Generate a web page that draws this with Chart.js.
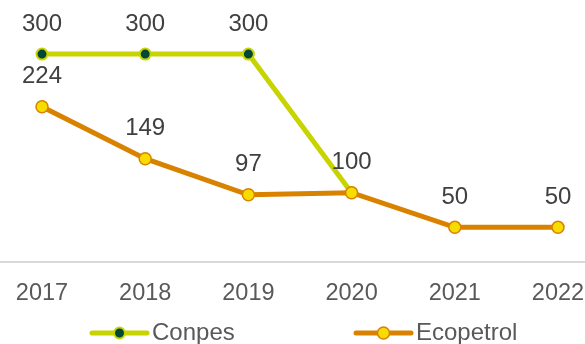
<!DOCTYPE html>
<html lang="es">
<head>
<meta charset="UTF-8">
<title>Conpes vs Ecopetrol</title>
<script src="https://cdn.jsdelivr.net/npm/chart.js"></script>
<style>
  html, body { margin: 0; padding: 0; background: #fff; }
  .grafico { width: 585px; height: 344px; }
</style>
</head>
<body>
<div class="grafico"><canvas id="grafico"></canvas></div>
<script>
// datos
const anios = ['2017', '2018', '2019', '2020', '2021', '2022'];
const conpes = [300, 300, 300, 100, null, null];
const ecopetrol = [224, 149, 97, 100, 50, 50];

const fuente = '"Liberation Sans", Arial, sans-serif';

// etiquetas de datos encima de cada punto (sin repetir las que coinciden)
const etiquetas = {
  id: 'etiquetas',
  afterDatasetsDraw(chart) {
    const ctx = chart.ctx;
    const hechas = {};
    ctx.save();
    ctx.font = '24px ' + fuente;
    ctx.fillStyle = '#404040';
    ctx.textAlign = 'center';
    ctx.textBaseline = 'middle';
    chart.data.datasets.forEach((ds, i) => {
      chart.getDatasetMeta(i).data.forEach((p, j) => {
        if (ds.data[j] == null) return;
        const clave = j + '-' + ds.data[j];
        if (hechas[clave]) return;
        hechas[clave] = true;
        ctx.fillText(ds.data[j], p.x, p.y - 30);
      });
    });
    ctx.restore();
  }
};

// linea base y leyenda
const extras = {
  id: 'extras',
  beforeDatasetsDraw(chart) {
    const ctx = chart.ctx;
    const y0 = chart.scales.y.getPixelForValue(0);
    ctx.save();
    ctx.strokeStyle = '#d9d9d9';
    ctx.lineWidth = 2;
    ctx.beginPath();
    ctx.moveTo(0, y0);
    ctx.lineTo(chart.width, y0);
    ctx.stroke();
    ctx.restore();
  },
  afterDraw(chart) {
    const ctx = chart.ctx;
    ctx.save();
    chart.data.datasets.forEach((ds, i) => {
      const x0 = 92 + i * 264;
      const y = 333;
      ctx.strokeStyle = ds.borderColor;
      ctx.lineWidth = ds.borderWidth;
      ctx.lineCap = 'round';
      ctx.beginPath();
      ctx.moveTo(x0, y);
      ctx.lineTo(x0 + 55, y);
      ctx.stroke();
      ctx.beginPath();
      ctx.arc(x0 + 27.5, y, ds.pointRadius, 0, Math.PI * 2);
      ctx.fillStyle = ds.pointBackgroundColor;
      ctx.fill();
      ctx.lineWidth = ds.pointBorderWidth;
      ctx.strokeStyle = ds.pointBorderColor;
      ctx.stroke();
      ctx.font = '24px ' + fuente;
      ctx.fillStyle = '#595959';
      ctx.textAlign = 'left';
      ctx.textBaseline = 'alphabetic';
      ctx.fillText(ds.label, x0 + 60, 340);
    });
    ctx.restore();
  }
};

new Chart(document.getElementById('grafico'), {
  type: 'line',
  data: {
    labels: anios,
    datasets: [{
      label: 'Conpes',
      data: conpes,
      borderColor: '#c8d400',
      borderWidth: 5,
      pointRadius: 5.5,
      pointBackgroundColor: '#00473a',
      pointBorderColor: '#c8d400',
      pointBorderWidth: 2,
      order: 2
    }, {
      label: 'Ecopetrol',
      data: ecopetrol,
      borderColor: '#d98200',
      borderWidth: 5,
      pointRadius: 6,
      pointBackgroundColor: '#f7dc00',
      pointBorderColor: '#d98200',
      pointBorderWidth: 1.5,
      order: 1
    }]
  },
  options: {
    responsive: true,
    maintainAspectRatio: false,
    animation: false,
    layout: { autoPadding: false, padding: { left: 42, right: 27, top: 0, bottom: 0 } },
    plugins: {
      legend: { display: false },
      tooltip: { enabled: false }
    },
    scales: {
      x: {
        offset: false,
        grid: {
          display: true,
          drawOnChartArea: false,
          drawTicks: true,
          tickLength: 17,
          tickColor: 'rgba(0,0,0,0)',
          color: 'rgba(0,0,0,0)'
        },
        border: { display: false },
        ticks: {
          color: '#595959',
          font: { family: fuente, size: 23.5 },
          padding: 0,
          maxRotation: 0
        },
        afterFit(scale) { scale.height = 82; }
      },
      y: {
        display: false,
        min: 0,
        max: 378
      }
    }
  },
  plugins: [extras, etiquetas]
});
</script>
</body>
</html>
